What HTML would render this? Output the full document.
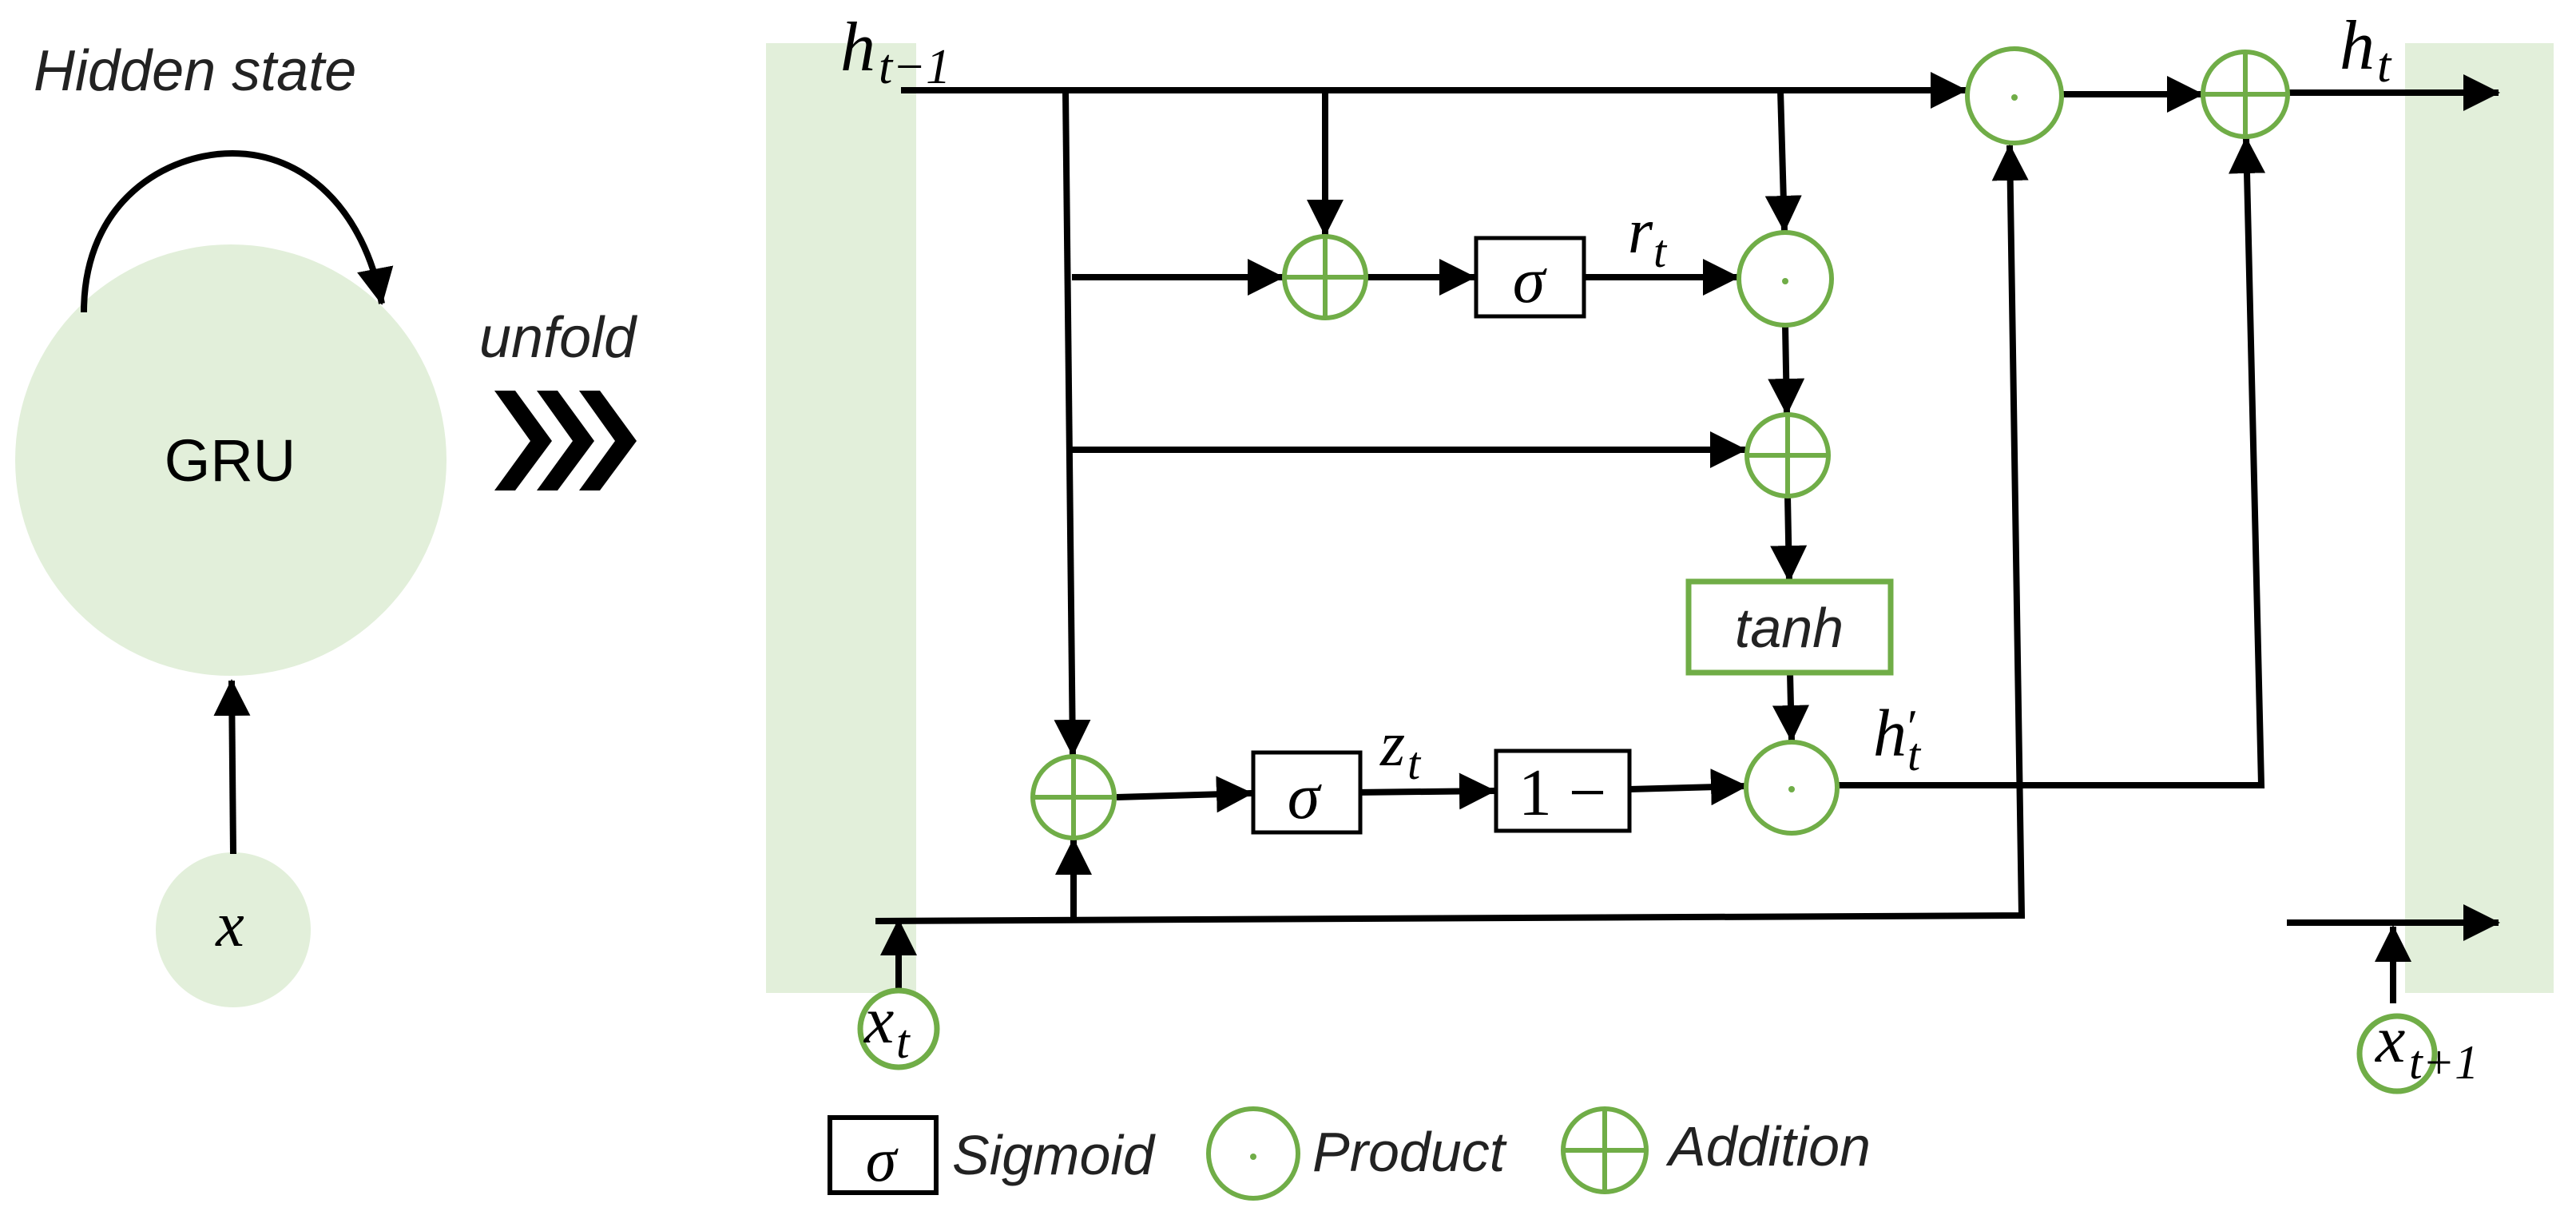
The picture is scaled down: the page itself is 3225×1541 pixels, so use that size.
<!DOCTYPE html>
<html><head><meta charset="utf-8"><style>html,body{margin:0;padding:0;background:#fff}svg{display:block}</style></head>
<body>
<svg width="3225" height="1541" viewBox="0 0 3225 1541" xmlns="http://www.w3.org/2000/svg">
<defs>
<marker id="a" markerWidth="46" markerHeight="46" refX="44" refY="23" orient="auto" markerUnits="userSpaceOnUse"><path d="M0,0 L46,23 L0,46z" fill="#000"/></marker>
</defs>
<style>
.l{stroke:#000;stroke-width:8;fill:none}
.g{stroke:#70ad47;stroke-width:6;fill:#fff}
.gl{stroke:#70ad47;stroke-width:6}
.m{font-family:"Liberation Serif",serif;font-style:italic;fill:#000}
.s{font-family:"Liberation Sans",sans-serif;font-style:italic;fill:#222}
</style>
<!-- left GRU -->
<text x="42" y="113" class="s" font-size="72" fill="#000">Hidden state</text>
<circle cx="289" cy="576" r="270" fill="#e2efda"/>
<text x="288" y="602" font-family="Liberation Sans, sans-serif" font-size="74" text-anchor="middle">GRU</text>
<path d="M105,391 C105,250 210,192 291,192 C380,192 455,260 478,380" class="l" marker-end="url(#a)"/>
<circle cx="292" cy="1164" r="97" fill="#e2efda"/>
<text x="288" y="1184" class="m" font-size="80" text-anchor="middle">x</text>
<line x1="292" y1="1069" x2="290" y2="852" class="l" marker-end="url(#a)"/>
<text x="600" y="447" class="s" font-size="72" fill="#000">unfold</text>
<g fill="#000">
<polygon points="619,489 645,489 691,552 645,614 619,614 664,552"/>
<polygon points="672,489 698,489 744,552 698,614 672,614 717,552"/>
<polygon points="725,489 751,489 797,552 751,614 725,614 770,552"/>
</g>
<!-- green bars -->
<rect x="959" y="54" width="188" height="1189" fill="#e2efda"/>
<rect x="3011" y="54" width="186" height="1189" fill="#e2efda"/>
<!-- top line -->
<line x1="1128" y1="113" x2="2461" y2="113" class="l" marker-end="url(#a)"/>
<text x="1052" y="88" class="m" font-size="88">h</text><text x="1100" y="104" class="m" font-size="62">t−1</text>
<!-- vertical from top -->
<line x1="1334" y1="113" x2="1343" y2="945" class="l" marker-end="url(#a)"/>
<line x1="1659" y1="113" x2="1659" y2="294" class="l" marker-end="url(#a)"/>
<line x1="2229" y1="113" x2="2234" y2="289" class="l" marker-end="url(#a)"/>
<line x1="1342" y1="347" x2="1606" y2="347" class="l" marker-end="url(#a)"/>
<line x1="1710" y1="347" x2="1846" y2="347" class="l" marker-end="url(#a)"/>
<line x1="1983" y1="347" x2="2176" y2="347" class="l" marker-end="url(#a)"/>
<line x1="2235" y1="407" x2="2237" y2="518" class="l" marker-end="url(#a)"/>
<line x1="1342" y1="563" x2="2185" y2="563" class="l" marker-end="url(#a)"/>
<line x1="2238" y1="621" x2="2240" y2="727" class="l" marker-end="url(#a)"/>
<line x1="2241" y1="842" x2="2243" y2="927" class="l" marker-end="url(#a)"/>
<!-- bottom row -->
<line x1="1398" y1="998" x2="1567" y2="993" class="l" marker-end="url(#a)"/>
<line x1="1696" y1="992" x2="1871" y2="990" class="l" marker-end="url(#a)"/>
<line x1="2040" y1="988" x2="2186" y2="984" class="l" marker-end="url(#a)"/>
<!-- bottom x line -->
<polyline points="1096,1153 2531,1146 2516,182" class="l" marker-end="url(#a)"/>
<line x1="1344" y1="1149" x2="1344" y2="1051" class="l" marker-end="url(#a)"/>
<line x1="1125" y1="1244" x2="1125" y2="1152" class="l" marker-end="url(#a)"/>
<polyline points="2299,983 2831,983 2812,173" class="l" marker-end="url(#a)"/>
<line x1="2581" y1="118" x2="2757" y2="118" class="l" marker-end="url(#a)"/>
<line x1="2865" y1="116" x2="3128" y2="116" class="l" marker-end="url(#a)"/>
<line x1="2863" y1="1155" x2="3128" y2="1155" class="l" marker-end="url(#a)"/>
<line x1="2996" y1="1256" x2="2996" y2="1160" class="l" marker-end="url(#a)"/>
<!-- nodes -->
<g>
<circle cx="1659" cy="347" r="51" class="g"/><line x1="1608" y1="347" x2="1710" y2="347" class="gl"/><line x1="1659" y1="296" x2="1659" y2="398" class="gl"/>
<circle cx="2238" cy="570" r="51" class="g"/><line x1="2187" y1="570" x2="2289" y2="570" class="gl"/><line x1="2238" y1="519" x2="2238" y2="621" class="gl"/>
<circle cx="1344" cy="998" r="51" class="g"/><line x1="1293" y1="998" x2="1395" y2="998" class="gl"/><line x1="1344" y1="947" x2="1344" y2="1049" class="gl"/>
<circle cx="2811" cy="118" r="53" class="g"/><line x1="2758" y1="118" x2="2864" y2="118" class="gl"/><line x1="2811" y1="65" x2="2811" y2="171" class="gl"/>
<circle cx="2235" cy="349" r="58" class="g"/><circle cx="2235" cy="352" r="4" fill="#70ad47"/>
<circle cx="2243" cy="986" r="57" class="g"/><circle cx="2243" cy="988" r="4" fill="#70ad47"/>
<circle cx="2522" cy="120" r="59" class="g"/><circle cx="2522" cy="122" r="4" fill="#70ad47"/>
</g>
<rect x="1848" y="298" width="135" height="98" fill="#fff" stroke="#000" stroke-width="5"/>
<text x="1914" y="378" class="m" font-size="82" text-anchor="middle">σ</text>
<rect x="1569" y="942" width="134" height="100" fill="#fff" stroke="#000" stroke-width="5"/>
<text x="1632" y="1024" class="m" font-size="82" text-anchor="middle">σ</text>
<rect x="1873" y="940" width="167" height="100" fill="#fff" stroke="#000" stroke-width="5"/>
<text x="1956" y="1020" font-family="Liberation Serif, serif" font-size="84" text-anchor="middle">1 −</text>
<rect x="2114" y="728" width="253" height="114" fill="#fff" stroke="#70ad47" stroke-width="7"/>
<text x="2240" y="810" class="s" font-size="70" fill="#000" text-anchor="middle">tanh</text>
<text x="2038" y="316" class="m" font-size="80">r</text><text x="2070" y="334" class="m" font-size="58">t</text>
<text x="1728" y="958" class="m" font-size="80">z</text><text x="1762" y="975" class="m" font-size="58">t</text>
<text x="2345" y="946" class="m" font-size="84">h</text><text x="2388" y="930" font-family="Liberation Serif,serif" font-size="60">′</text><text x="2388" y="964" class="m" font-size="58">t</text>
<text x="2929" y="86" class="m" font-size="88">h</text><text x="2976" y="102" class="m" font-size="62">t</text>
<!-- inputs -->
<circle cx="1125" cy="1288" r="48" fill="#fff" stroke="#70ad47" stroke-width="7"/>
<text x="1082" y="1305" class="m" font-size="84">x</text><text x="1122" y="1324" class="m" font-size="60">t</text>
<circle cx="3001" cy="1319" r="47" fill="#fff" stroke="#70ad47" stroke-width="7"/>
<text x="2974" y="1329" class="m" font-size="84">x</text><text x="3016" y="1350" class="m" font-size="60">t+1</text>
<!-- legend -->
<rect x="1039" y="1399" width="133" height="94" fill="#fff" stroke="#000" stroke-width="6"/>
<text x="1103" y="1478" class="m" font-size="78" text-anchor="middle">σ</text>
<text x="1192" y="1470" class="s" font-size="70">Sigmoid</text>
<circle cx="1569" cy="1444" r="56" class="g"/><circle cx="1569" cy="1448" r="4" fill="#70ad47"/>
<text x="1643" y="1466" class="s" font-size="70">Product</text>
<circle cx="2009" cy="1440" r="52" class="g"/><line x1="1957" y1="1440" x2="2061" y2="1440" class="gl"/><line x1="2009" y1="1388" x2="2009" y2="1492" class="gl"/>
<text x="2089" y="1459" class="s" font-size="70">Addition</text>
</svg>
</body></html>
